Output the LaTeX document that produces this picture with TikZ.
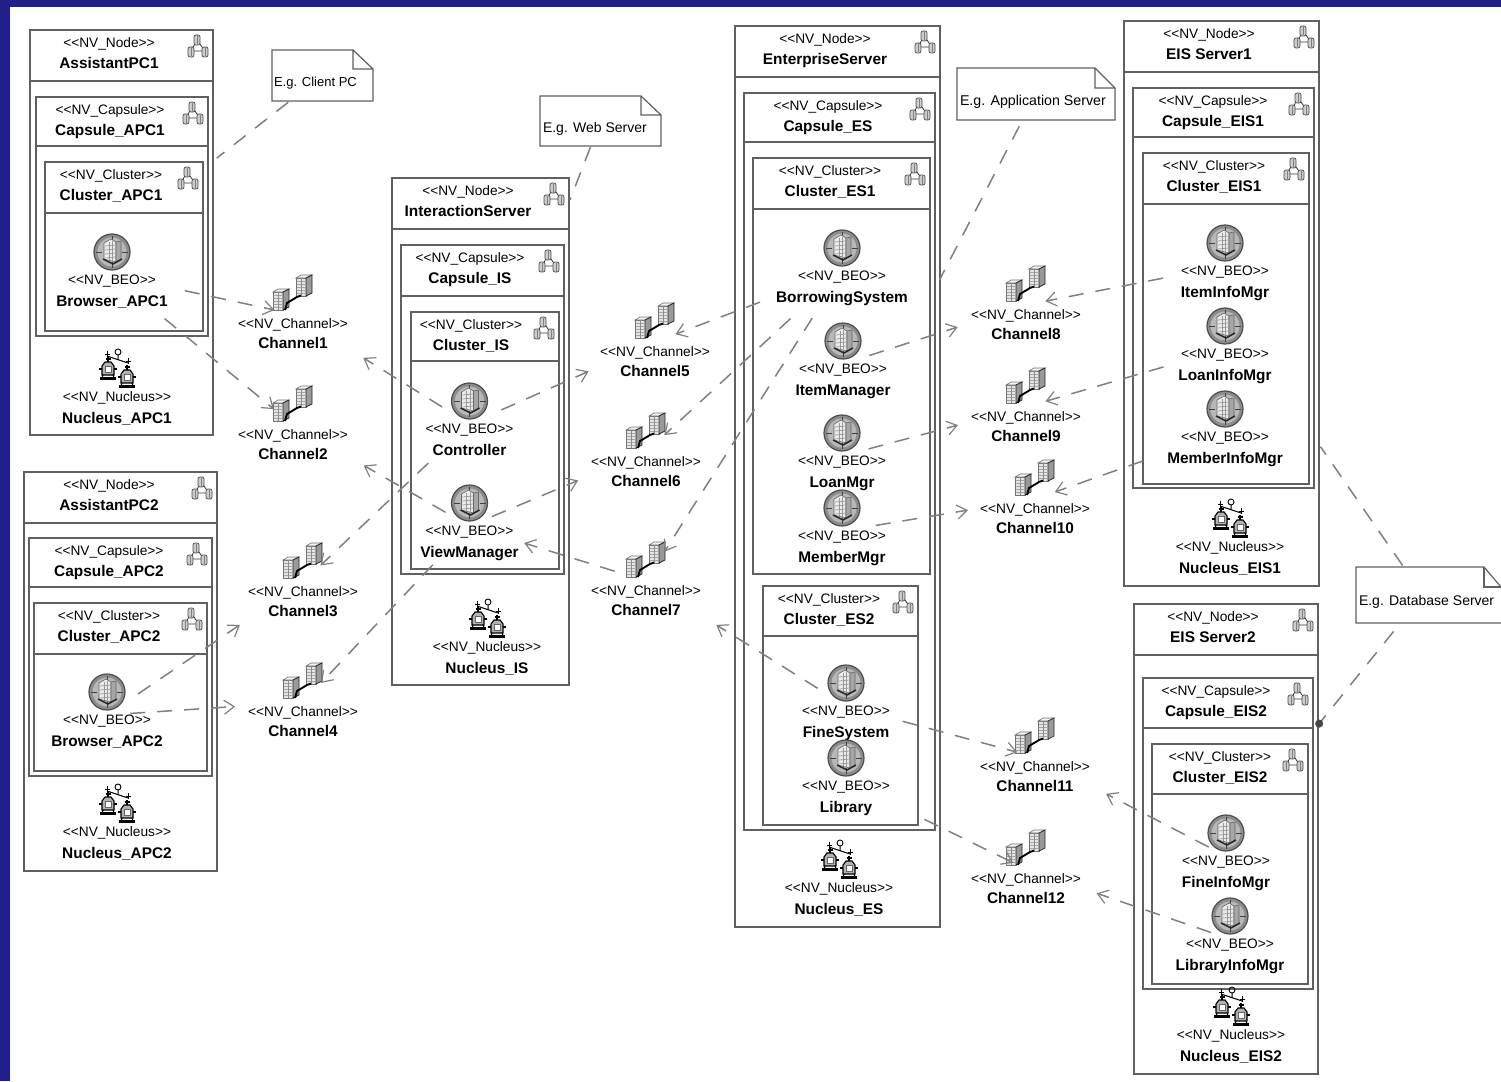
\documentclass[tikz,border=0pt]{standalone}
\usepackage{fontspec}
\setmainfont{Liberation Sans}
\usetikzlibrary{calc,arrows.meta}
\definecolor{bgblue}{RGB}{32,32,136}
\definecolor{edgegray}{RGB}{96,96,96}
\definecolor{dashgray}{RGB}{128,128,128}
\tikzset{
  nvrect/.style={draw=edgegray,line width=1.2pt,anchor=north west,inner sep=0pt,outer sep=0pt},
  divider/.style={draw=edgegray,line width=1.2pt},
  stereo/.style={inner sep=0pt,anchor=base,font=\fontsize{13.7}{15}\selectfont},
  title/.style={inner sep=0pt,anchor=base,font=\fontsize{15.4}{17}\selectfont\bfseries},
  anchorpt/.style={inner sep=0pt,outer sep=0pt,minimum size=0pt},
  notearea/.style={inner sep=0pt,outer sep=0pt},
  notetext/.style={inner sep=0pt,outer sep=0pt,anchor=base west},
  noteedge/.style={draw=edgegray,line width=1.2pt,fill=white,line join=miter},
  dep/.style={draw=dashgray,line width=1.5pt,dash pattern=on 15pt off 12pt,-{Straight Barb[length=10pt,width=14pt,line width=1.2pt]}},
  notelink/.style={draw=dashgray,line width=1.5pt,dash pattern=on 15pt off 12pt},
  notedot/.style={draw=dashgray,line width=1.5pt,dash pattern=on 15pt off 12pt,-{Circle[length=8pt,width=8pt,fill=black!72,color=black!72]}},
}
% element box with header
\newcommand\nvbox[9]{% id x1 y1 x2 y2 sep textx stereotype name
  \node[nvrect,minimum width={(#4-#2)*1pt},minimum height={(#5-#3)*1pt}] (#1) at (#2,#3) {};
  \draw[divider] (#2,#6) -- (#4,#6);
  \node[stereo] (#1-s) at (#7,#3+17.6) {<{}<NV\_#8>{}>};
  \node[title] (#1-n) at (#7,#3+38.8) {#9};
  \trinode{#4-15}{#3+16}}
% three linked cylinders
\newcommand\trinode[2]{%
  \begin{scope}[shift={({#1},{#2})}]
    \draw[black!80,line width=.8pt] (-1,-6) -- (-7,5) -- (7,5) -- cycle;
    \foreach \cx/\cy in {-1/-6,-7/6,7/6}{
      \fill[black!20,draw=black!70,line width=.7pt,rounded corners=2pt] (\cx-3,\cy-5) rectangle (\cx+3,\cy+5);
      \draw[black!50,line width=.5pt] (\cx,\cy-4.5) -- (\cx,\cy+4.5);
    }
  \end{scope}}
% business element icon
\newcommand\beoicon[2]{%
  \begin{scope}[shift={(#1,#2)}]
    \fill[black!45,draw=black!70,line width=1.2pt] (0,0) circle (18);
    \fill[black!28] (0,0) circle (14.5);
    \foreach \a in {0,90,180,270}{\draw[black!75,line width=1pt] (\a:10) -- (\a:16);}
    \fill[black!8,draw=black!60,line width=.6pt] (-8,-9) -- (-1,-13) -- (4,-10) -- (4,10) -- (-8,7) -- cycle;
    \fill[black!35,draw=black!60,line width=.6pt] (4,-10) -- (9,-11) -- (9,7) -- (4,10) -- cycle;
    \foreach \v in {-6,-2,2,6}{\draw[black!40,line width=.7pt] (-7,\v) -- (3.5,\v-1);}
    \draw[black!40,line width=.7pt] (-3,-10) -- (-3,8) (0.5,-11) -- (0.5,9);
    \draw[black!85,line width=1.5pt] (-9,7) -- (1,12) -- (10,7);
  \end{scope}}
\newcommand\srvstack[2]{%
  \begin{scope}[shift={(#1,#2)}]
    \fill[black!10,draw=black!55,line width=.6pt] (-8,-8) -- (2,-8) -- (2,10) -- (-8,10) -- cycle;
    \fill[black!5,draw=black!55,line width=.6pt] (-8,-8) -- (-3,-11) -- (8,-11) -- (2,-8) -- cycle;
    \fill[black!40,draw=black!85,line width=.7pt] (2,-8) -- (8,-11) -- (8,7) -- (2,10) -- cycle;
    \foreach \v in {-5,-2,1,4,7}{\draw[black!35,line width=.7pt] (-7.5,\v) -- (1.5,\v);}
    \draw[black!45,line width=.7pt] (-3,-8) -- (-3,10);
  \end{scope}}
\newcommand\chanicon[2]{%
  \begin{scope}[shift={(#1,#2)}]
    \srvstack{11}{-8}
    \srvstack{-12}{6}
    \draw[black,line width=1.9pt] (-8,16) -- (-6,9) -- (4,3) -- (8,1.5);
  \end{scope}}
\newcommand\nucfig[2]{%
  \begin{scope}[shift={(#1,#2)}]
    \draw[black,line width=1.1pt] (0,-12) -- (0,-6) (-2.5,-10) -- (2.5,-10);
    \fill[black!30,draw=black,line width=1.1pt] (-3,-7) -- (3,-7) -- (6,-3) -- (6,6) -- (-6,6) -- (-6,-3) -- cycle;
    \fill[white,draw=black!60,line width=.5pt] (-3,-3) rectangle (3,3);
    \draw[black,line width=1.1pt] (-9,0) -- (-6,0) (6,0) -- (9,0);
    \draw[black,line width=2.2pt] (-8,9.5) -- (8,9.5);
    \draw[black,line width=1.1pt] (-5,6) -- (-6,9) (5,6) -- (6,9);
  \end{scope}}
\newcommand\nucicon[2]{%
  \begin{scope}[shift={(#1,#2)}]
    \nucfig{-10}{-1}
    \nucfig{9}{7}
    \draw[black,line width=.9pt] (0,-18) circle (3);
    \draw[black,line width=1pt] (-11,-14) -- (10,-7) (0,-15) -- (0,-10);
    \draw[black,line width=1pt] (-13,-16) -- (-8,-16) (-10.5,-19) -- (-10.5,-13);
    \draw[black,line width=1pt] (7.5,-9) -- (12.5,-9) (10,-12) -- (10,-6);
  \end{scope}}
\newcommand\beo[4]{% id x iconY name
  \node[anchorpt] (#1) at (#2,#3+23) {};
  \beoicon{#2}{#3}
  \node[stereo] (#1-s) at (#2,#3+32) {<{}<NV\_BEO>{}>};
  \node[title] (#1-n) at (#2,#3+54.5) {#4};}
\newcommand\chan[4]{% id x iconY name
  \node[anchorpt] (#1) at (#2,#3+20) {};
  \chanicon{#2}{#3}
  \node[stereo] (#1-s) at (#2,#3+34) {<{}<NV\_Channel>{}>};
  \node[title] (#1-n) at (#2,#3+54.5) {#4};}
\newcommand\nuc[4]{% id x iconY name
  \nucicon{#2}{#3}
  \node[stereo] (#1-s) at (#2-1,#3+31.5) {<{}<NV\_Nucleus>{}>};
  \node[title] (#1-n) at (#2-1,#3+53) {#4};}
% dependency: centre-to-centre line, visible between the two given points
\newcommand\deplink[5][dep]{%
  \draw[#1] let \p1=(#2),\p2=(#4),\p3=(#3),\p4=(#5),
    \n1={veclen(\x2-\x1,\y2-\y1)},\n2={veclen(\x4-\x3,\y4-\y3)} in
    ($(#2)!\n1!(#3)$) -- ($(#3)!\n2!(#2)$);}
\begin{document}
\begin{tikzpicture}[x=1pt,y=-1pt]
\useasboundingbox (0,0) rectangle (1501,1081);
\fill[bgblue] (0,0) rectangle (1501,1081);
\fill[white] (10,7) rectangle (1501,1081);
% --- boxes ---
\nvbox{NodeA1}{30}{30}{213}{435}{81}{109}{Node}{AssistantPC1}
\nvbox{CapA1}{36}{97}{208}{336}{146}{110}{Capsule}{Capsule\_APC1}
\nvbox{CluA1}{45}{162}{203}{331}{213}{111}{Cluster}{Cluster\_APC1}
\nvbox{NodeA2}{24}{472}{217}{871}{523}{109}{Node}{AssistantPC2}
\nvbox{CapA2}{29}{538}{212}{776}{587}{109}{Capsule}{Capsule\_APC2}
\nvbox{CluA2}{34}{603}{207}{771}{654}{109}{Cluster}{Cluster\_APC2}
\nvbox{NodeIS}{392}{178}{569}{685}{229}{468}{Node}{InteractionServer}
\nvbox{CapIS}{401}{245}{564}{574}{296}{470}{Capsule}{Capsule\_IS}
\nvbox{CluIS}{411}{312}{559}{569}{361}{471}{Cluster}{Cluster\_IS}
\nvbox{NodeES}{735}{26}{940}{927}{77}{825}{Node}{EnterpriseServer}
\nvbox{CapES}{744}{93}{935}{830}{142}{828}{Capsule}{Capsule\_ES}
\nvbox{CluESa}{753}{158}{930}{574}{209}{830}{Cluster}{Cluster\_ES1}
\nvbox{CluESb}{763}{586}{918}{825}{636}{829}{Cluster}{Cluster\_ES2}
\nvbox{NodeEa}{1124}{21}{1319}{586}{72}{1209}{Node}{EIS Server1}
\nvbox{CapEa}{1133}{88}{1314}{488}{137}{1213}{Capsule}{Capsule\_EIS1}
\nvbox{CluEa}{1143}{153}{1309}{484}{204}{1214}{Cluster}{Cluster\_EIS1}
\nvbox{NodeEb}{1134}{604}{1318}{1074}{655}{1213}{Node}{EIS Server2}
\nvbox{CapEb}{1143}{678}{1313}{989}{728}{1216}{Capsule}{Capsule\_EIS2}
\nvbox{CluEb}{1152}{744}{1308}{984}{794}{1220}{Cluster}{Cluster\_EIS2}
% --- notes ---
\draw[noteedge] (272,50) -- (353,50) -- (373,69) -- (373,101) -- (272,101) -- cycle (353,50) -- (353,69) -- (373,69);
\node[notearea,minimum width=101pt,minimum height=51pt] (NoteClient) at (322.5,75.5) {};
\node[notetext,font=\fontsize{13}{15}\selectfont] (NoteClientT) at (274,86.5) {E.g. Client PC};
\draw[noteedge] (540,96) -- (641,96) -- (661,115) -- (661,146) -- (540,146) -- cycle (641,96) -- (641,115) -- (661,115);
\node[notearea,minimum width=121pt,minimum height=50pt] (NoteWeb) at (600.5,121) {};
\node[notetext,font=\fontsize{14}{15}\selectfont] (NoteWebT) at (543,132) {E.g. Web Server};
\draw[noteedge] (957,68) -- (1095,68) -- (1115,88) -- (1115,120) -- (957,120) -- cycle (1095,68) -- (1095,88) -- (1115,88);
\node[notearea,minimum width=158pt,minimum height=52pt] (NoteApp) at (1036,94) {};
\node[notetext,font=\fontsize{14.2}{15}\selectfont] (NoteAppT) at (960,105) {E.g. Application Server};
\draw[noteedge] (1501,623) -- (1356,623) -- (1356,567) -- (1484,567) -- (1501,587);
\draw[noteedge,fill=none] (1484,567) -- (1484,587) -- (1501,587);
\node[notearea,minimum width=134pt,minimum height=56pt] (NoteDB) at (1423,595) {};
\node[notetext,font=\fontsize{14}{15}\selectfont] (NoteDBT) at (1359,605) {E.g. Database Server};
% --- business elements ---
\beo{BrA1}{112}{252}{Browser\_APC1}
\beo{BrA2}{107}{692}{Browser\_APC2}
\beo{Ctrl}{469.5}{401}{Controller}
\beo{View}{469.5}{503}{ViewManager}
\beo{Borr}{842}{248}{BorrowingSystem}
\beo{Item}{843}{341}{ItemManager}
\beo{Loan}{842}{433}{LoanMgr}
\beo{Memb}{842}{508}{MemberMgr}
\beo{Fine}{846}{683}{FineSystem}
\beo{Libr}{846}{758}{Library}
\beo{IInf}{1225}{243}{ItemInfoMgr}
\beo{LInf}{1225}{326}{LoanInfoMgr}
\beo{MInf}{1225}{409}{MemberInfoMgr}
\beo{FInf}{1226}{833}{FineInfoMgr}
\beo{BInf}{1230}{916}{LibraryInfoMgr}
% --- channels ---
\chan{Ch1}{293}{294}{Channel1}
\chan{Ch2}{293}{405}{Channel2}
\chan{Ch3}{303}{562}{Channel3}
\chan{Ch4}{303}{682}{Channel4}
\chan{Ch5}{655}{322}{Channel5}
\chan{Ch6}{646}{432}{Channel6}
\chan{Ch7}{646}{561}{Channel7}
\chan{Ch8}{1026}{285}{Channel8}
\chan{Ch9}{1026}{387}{Channel9}
\chan{Ch10}{1035}{479}{Channel10}
\chan{Ch11}{1035}{737}{Channel11}
\chan{Ch12}{1026}{849}{Channel12}
% --- nuclei ---
\nuc{NucA1}{118}{370}{Nucleus\_APC1}
\nuc{NucA2}{118}{805}{Nucleus\_APC2}
\nuc{NucIS}{488}{620}{Nucleus\_IS}
\nuc{NucES}{840}{861}{Nucleus\_ES}
\nuc{NucEa}{1231}{520}{Nucleus\_EIS1}
\nuc{NucEb}{1232}{1008}{Nucleus\_EIS2}
% --- dependencies ---
\deplink{BrA1}{Ch1}{185,290}{275,308}
\deplink{BrA1}{Ch2}{165,318}{275,408}
\deplink{Ctrl}{Ch1}{445,403}{365,355}
\deplink{View}{Ch2}{447,510}{365,463}
\deplink{Ctrl}{Ch5}{500,407}{588,370}
\deplink{View}{Ch6}{490,513}{578,480}
\deplink{Borr}{Ch5}{762,307}{675,333}
\deplink{Borr}{Ch6}{790,318}{665,436}
\deplink{Borr}{Ch7}{812,318}{665,552}
\deplink{Ch7}{View}{615,570}{525,540}
\deplink{Ctrl}{Ch3}{428,463}{320,565}
\deplink{View}{Ch4}{433,565}{320,682}
\deplink{BrA2}{Ch3}{135,690}{240,625}
\deplink{BrA2}{Ch4}{130,711}{235,705}
\deplink{Fine}{Ch7}{820,685}{718,622}
\deplink{Fine}{Ch11}{903,720}{1018,750}
\deplink{Libr}{Ch12}{925,818}{1015,860}
\deplink{Item}{Ch8}{868,352}{958,328}
\deplink{Loan}{Ch9}{868,447}{958,425}
\deplink{Memb}{Ch10}{875,522}{968,510}
\deplink{IInf}{Ch8}{1163,278}{1045,300}
\deplink{LInf}{Ch9}{1163,365}{1045,400}
\deplink{MInf}{Ch10}{1143,462}{1055,493}
\deplink{FInf}{Ch11}{1210,845}{1107,792}
\deplink{BInf}{Ch12}{1213,928}{1097,892}
% --- note links ---
\deplink[notelink]{NoteClient}{NodeA1}{288,102}{217,158}
\deplink[notelink]{NoteWeb}{NodeIS}{590,147}{570,200}
\deplink[notelink]{NoteApp}{NodeES}{1019,126}{940,280}
\deplink[notelink]{NoteDB}{NodeEa}{1402,566}{1320,447}
\deplink[notedot]{NoteDB}{NodeEb}{1392,630}{1314.5,725}
\end{tikzpicture}
\end{document}
